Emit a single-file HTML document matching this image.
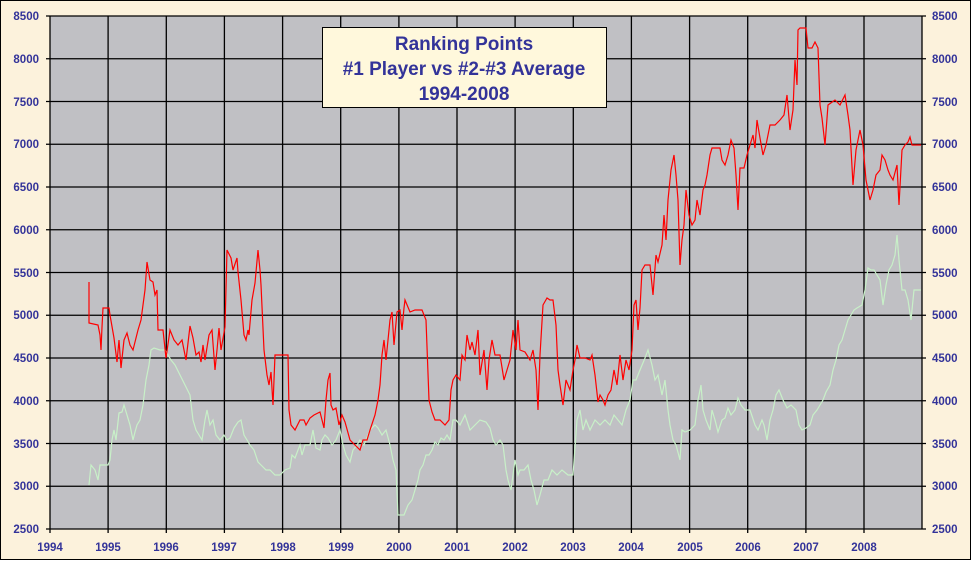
<!DOCTYPE html>
<html><head><meta charset="utf-8"><style>
html,body{margin:0;padding:0;background:#fff}
svg{display:block}
text{font-family:"Liberation Sans",sans-serif;font-weight:bold;fill:#333399}
</style></head><body>
<svg width="972" height="561" viewBox="0 0 972 561" xmlns="http://www.w3.org/2000/svg">
<rect x="0.5" y="0.5" width="970" height="559" fill="#fcf2dc" stroke="#000"/>
<rect x="50" y="16" width="872" height="513" fill="#c0c0c4"/>
<g stroke="#000" stroke-width="1.3">
<path d="M50 16H922M50 58.75H922M50 101.5H922M50 144.25H922M50 187H922M50 229.75H922M50 272.5H922M50 315.25H922M50 358H922M50 400.75H922M50 443.5H922M50 486.25H922M50 529H922"/>
<path d="M108.1 16V533M166.3 16V533M224.4 16V533M282.6 16V533M340.7 16V533M398.9 16V533M457 16V533M515.1 16V533M573.3 16V533M631.4 16V533M689.6 16V533M747.7 16V533M805.9 16V533M864 16V533M50 16V533M922 16V529"/>
<path d="M46 16H50M46 58.75H50M46 101.5H50M46 144.25H50M46 187H50M46 229.75H50M46 272.5H50M46 315.25H50M46 358H50M46 400.75H50M46 443.5H50M46 486.25H50M46 529H50"/>
<path d="M922 16H926M922 58.75H926M922 101.5H926M922 144.25H926M922 187H926M922 229.75H926M922 272.5H926M922 315.25H926M922 358H926M922 400.75H926M922 443.5H926M922 486.25H926M922 529H926"/>
</g>
<g font-size="11.5" text-anchor="end">
<text x="39" y="20">8500</text><text x="39" y="63">8000</text><text x="39" y="106">7500</text><text x="39" y="148">7000</text><text x="39" y="191">6500</text><text x="39" y="234">6000</text><text x="39" y="277">5500</text><text x="39" y="319">5000</text><text x="39" y="362">4500</text><text x="39" y="405">4000</text><text x="39" y="448">3500</text><text x="39" y="490">3000</text><text x="39" y="533">2500</text>
</g>
<g font-size="11.5">
<text x="932" y="20">8500</text><text x="932" y="63">8000</text><text x="932" y="106">7500</text><text x="932" y="148">7000</text><text x="932" y="191">6500</text><text x="932" y="234">6000</text><text x="932" y="277">5500</text><text x="932" y="319">5000</text><text x="932" y="362">4500</text><text x="932" y="405">4000</text><text x="932" y="448">3500</text><text x="932" y="490">3000</text><text x="932" y="533">2500</text>
</g>
<g font-size="11.5" text-anchor="middle">
<text x="50" y="551">1994</text><text x="108" y="551">1995</text><text x="166" y="551">1996</text><text x="224" y="551">1997</text><text x="283" y="551">1998</text><text x="341" y="551">1999</text><text x="399" y="551">2000</text><text x="457" y="551">2001</text><text x="515" y="551">2002</text><text x="573" y="551">2003</text><text x="631" y="551">2004</text><text x="690" y="551">2005</text><text x="748" y="551">2006</text><text x="806" y="551">2007</text><text x="864" y="551">2008</text>
</g>
<polyline fill="none" stroke="#c8f0c8" stroke-width="1.2" points="89,485 91,465 95,470 98,480 100,465 103,465 108,465 110,460 112,440 114,430 116,440 119,413 122,412 124,405 127,415 130,425 133,440 135,432 137,425 140,420 143,405 146,380 149,365 151,350 154,348 160,350 165,350 168,355 171,360 175,365 180,375 185,385 190,395 193,420 196,430 199,435 202,440 205,420 207,410 210,425 213,420 216,435 220,440 224,435 227,440 230,438 234,428 238,422 241,420 244,435 247,440 250,445 254,450 258,462 262,466 266,470 270,470 275,475 280,475 285,470 290,468 292,455 295,458 298,450 300,445 302,455 305,445 310,445 313,430 316,448 320,450 322,440 325,435 328,438 332,445 336,440 340,430 343,445 346,455 350,462 353,450 357,445 360,440 364,445 370,430 375,425 378,428 382,435 386,430 390,445 393,460 396,470 398,515 404,515 408,505 412,500 415,490 418,480 420,470 423,465 426,455 429,455 432,450 435,442 438,445 441,438 444,440 447,435 450,440 453,420 456,420 460,425 465,415 470,430 475,425 480,420 486,422 490,428 493,440 496,445 500,440 503,445 506,470 508,480 511,490 515,460 518,475 520,470 524,470 528,465 531,480 534,490 537,505 540,495 544,480 548,480 552,470 557,475 562,470 568,475 573,475 577,420 580,410 583,430 586,420 590,430 595,420 600,425 605,420 610,425 614,415 618,420 622,425 626,410 630,400 633,380 636,380 640,370 645,358 648,350 652,365 655,380 658,375 662,395 665,380 668,410 670,425 673,440 676,445 680,460 682,430 685,432 690,430 695,425 698,400 701,385 703,410 706,420 710,430 712,410 715,420 718,432 722,420 725,418 728,408 731,415 735,410 738,398 741,405 745,410 750,410 755,425 758,430 762,420 764,425 767,440 770,420 773,410 776,395 779,390 783,400 787,408 791,405 796,410 799,425 802,430 806,428 810,425 813,415 817,410 820,405 823,400 826,392 830,385 833,370 836,360 839,345 842,340 845,330 848,320 851,315 854,310 857,308 862,305 865,290 868,268 871,270 874,270 877,275 880,280 883,305 886,285 889,270 892,265 895,255 897,235 899,260 902,290 905,290 908,300 911,320 914,290 921,290"/>
<polyline fill="none" stroke="#ff0000" stroke-width="1.2" points="89,282 89,323 98,325 100,335 101,350 102,327 103,308 109,308 110,315 114,338 117,362 119,340 121,368 124,340 127,333 130,345 133,350 138,330 141,320 145,290 147,262 150,280 153,282 155,295 157,290 158,330 163,330 166,358 170,330 174,340 178,345 182,340 186,360 190,326 193,338 196,355 199,352 201,362 203,345 205,360 209,335 212,330 215,370 217,350 219,328 221,350 225,327 227,250 231,258 233,270 237,258 238,272 241,300 244,335 246,340 248,330 249,335 252,300 255,283 258,250 260,270 261,285 264,350 267,375 269,385 271,372 273,405 275,355 288,355 289,410 291,425 295,430 300,420 304,420 306,425 310,418 314,415 320,412 324,428 326,400 328,380 330,373 331,405 333,410 336,408 339,425 342,415 345,422 350,440 355,445 360,450 363,440 367,440 370,430 375,415 378,400 380,385 382,355 384,340 386,360 388,340 390,320 392,312 394,345 397,312 400,310 402,330 404,308 405,300 410,312 415,310 422,310 424,315 426,320 429,400 432,412 435,420 440,420 445,425 449,420 451,390 453,380 456,375 460,380 462,355 465,360 467,335 470,350 472,342 475,355 478,330 480,375 484,350 487,390 489,360 492,340 495,355 500,355 504,380 507,370 510,360 513,330 516,350 518,320 520,350 525,352 530,360 533,350 536,370 538,410 540,355 543,305 547,298 550,300 553,300 556,325 558,370 560,385 563,405 566,380 570,390 573,370 575,360 577,345 580,358 585,358 590,360 592,355 595,375 598,402 600,395 603,400 605,405 608,395 611,390 614,370 617,385 620,355 623,380 626,360 629,370 632,350 634,305 636,300 638,330 640,308 642,270 645,265 650,265 653,295 656,255 658,262 662,245 664,215 666,240 668,200 671,170 674,155 676,175 678,200 680,265 682,240 684,225 686,190 689,215 692,225 695,220 697,200 700,215 703,190 705,185 707,175 710,155 712,148 720,148 722,160 725,165 728,155 731,140 734,148 736,175 738,210 740,168 744,168 747,155 750,145 753,135 755,148 757,120 760,138 763,155 766,145 770,125 775,125 780,120 784,115 787,95 790,130 793,110 795,60 797,85 798,30 800,28 806,28 808,48 812,48 815,42 818,48 820,105 822,118 825,145 828,105 835,100 840,105 845,95 848,115 850,130 853,185 856,150 860,130 863,145 866,180 870,200 873,190 876,175 880,170 882,155 885,160 888,170 890,175 893,180 897,165 899,205 902,150 905,145 908,142 910,137 912,145 915,145 921,145"/>
<rect x="322.5" y="27.5" width="284" height="80" fill="#fff8dc" stroke="#000"/>
<g font-size="19" text-anchor="middle">
<text x="464" y="50">Ranking Points</text>
<text x="464" y="75">#1 Player vs #2-#3 Average</text>
<text x="464" y="100">1994-2008</text>
</g>
</svg>
</body></html>
